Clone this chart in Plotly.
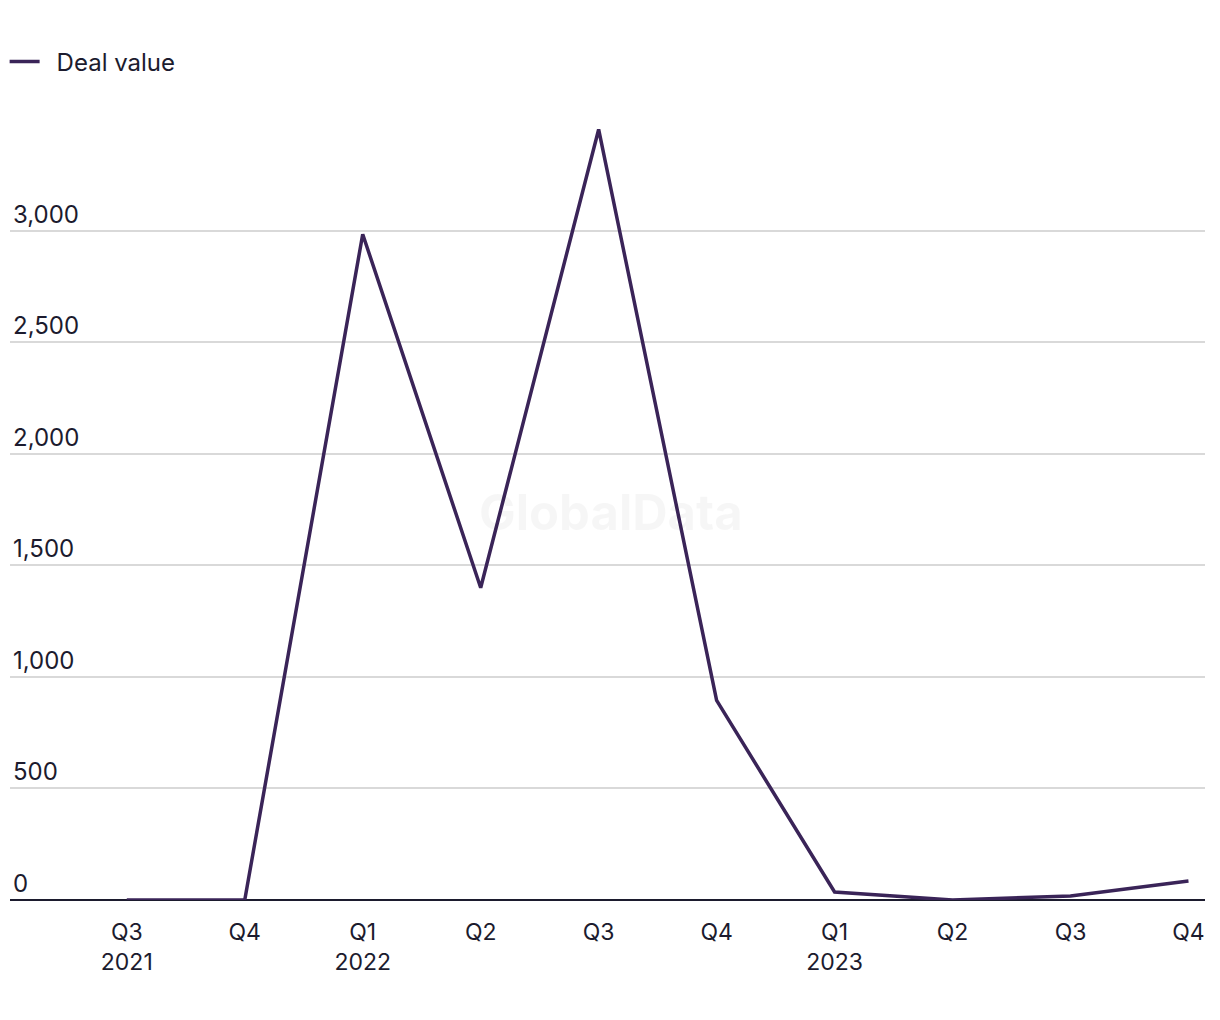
import plotly.graph_objects as go

quarters = ["Q3<br>2021", "Q4", "Q1<br>2022", "Q2", "Q3", "Q4", "Q1<br>2023", "Q2", "Q3", "Q4"]
deal_value = [0, 0, 2985, 1400, 3455, 895, 36, 0, 18, 85]
y_ticks = [0, 500, 1000, 1500, 2000, 2500, 3000]
y_tick_text = ["0", "500", "1,000", "1,500", "2,000", "2,500", "3,000"]

xs = list(range(len(quarters)))
FONT = "Inter, 'Noto Sans', sans-serif"
TXT = "#1c1b2e"

fig = go.Figure()
fig.add_trace(go.Scatter(
    x=xs, y=deal_value, mode="lines", name="\u2002Deal value",
    line=dict(color="#3a2458", width=3.5),
))

fig.update_layout(
    width=1220, height=1020,
    margin=dict(l=10, r=15, t=100, b=120),
    plot_bgcolor="white", paper_bgcolor="white",
    font=dict(family=FONT, size=24, color=TXT),
    showlegend=True,
    legend=dict(orientation="h", x=-0.0045, xanchor="left", y=1 - 62 / 1020, yref="container",
                yanchor="middle", font=dict(size=24, color=TXT),
                itemwidth=30, bgcolor="rgba(0,0,0,0)"),
    xaxis=dict(
        range=[-0.99, 9.14], tickvals=xs, ticktext=quarters,
        showgrid=False, zeroline=False, showline=False, ticks="",
        ticklabelstandoff=16,
        tickfont=dict(size=23, color=TXT),
    ),
    yaxis=dict(
        range=[0, 3587], tickvals=y_ticks, ticktext=y_tick_text,
        showgrid=True, gridcolor="#d9d9d9", gridwidth=1.5,
        zeroline=True, zerolinecolor="#1c1b2e", zerolinewidth=2,
        showline=False, ticks="",
        ticklabelposition="inside top",
        tickfont=dict(size=24, color=TXT),
    ),
    annotations=[dict(
        text="<b>GlobalData</b>", x=0.5, y=0.5, xref="paper", yref="paper",
        yshift=-12, xshift=3,
        showarrow=False, font=dict(size=49, color="rgba(0,0,0,0.035)", family=FONT),
    )],
)

fig.write_html("out.html")
